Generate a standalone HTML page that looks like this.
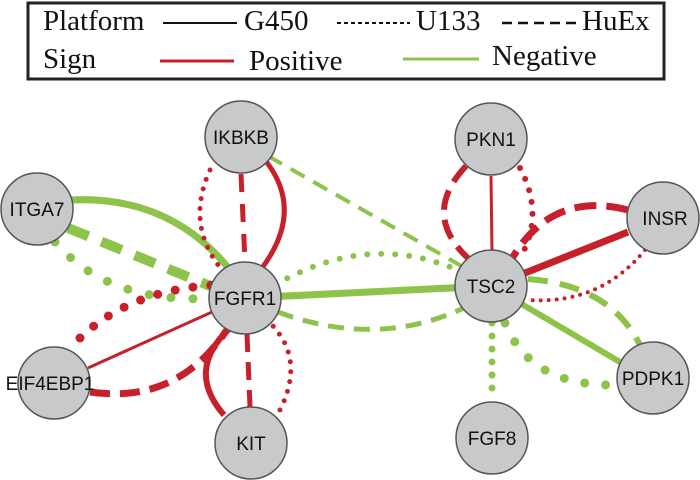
<!DOCTYPE html>
<html><head><meta charset="utf-8"><style>
html,body{margin:0;padding:0;background:#fff;}
svg{display:block;}
.lg{font-family:"Liberation Serif",serif;font-size:29px;fill:#111;}
.nd{font-family:"Liberation Sans",sans-serif;font-size:19px;fill:#111;text-anchor:middle;}
</style></head><body>
<svg width="700" height="480" viewBox="0 0 700 480" xmlns="http://www.w3.org/2000/svg">
<rect x="28" y="3" width="636" height="76" fill="#fff" stroke="#222" stroke-width="3"/>
<text class="lg" x="43" y="30">Platform</text>
<line x1="163" y1="23" x2="237" y2="23" stroke="#111" stroke-width="2"/>
<text class="lg" x="244" y="30">G450</text>
<line x1="337" y1="23" x2="410" y2="23" stroke="#111" stroke-width="2" stroke-dasharray="4 3"/>
<text class="lg" x="416" y="30">U133</text>
<line x1="502" y1="23" x2="578" y2="23" stroke="#111" stroke-width="2.5" stroke-dasharray="10 6"/>
<text class="lg" x="582" y="30">HuEx</text>
<text class="lg" x="43" y="68">Sign</text>
<line x1="160" y1="61" x2="234" y2="61" stroke="#c8202a" stroke-width="3"/>
<text class="lg" x="249" y="70">Positive</text>
<line x1="403" y1="59" x2="479" y2="59" stroke="#8dc34a" stroke-width="3"/>
<text class="lg" x="492" y="65">Negative</text>

<g fill="none" stroke-linecap="butt">
<path d="M268 156 L465 268" stroke="#8dc34a" stroke-width="4" stroke-dasharray="16 10"/>
<path d="M245 298 L491 286" stroke="#8dc34a" stroke-width="7"/>
<path d="M275 285 Q370 230 462 272" stroke="#8dc34a" stroke-width="6" stroke-dasharray="0 14" stroke-linecap="round"/>
<path d="M278 312 Q380 350 470 305" stroke="#8dc34a" stroke-width="5" stroke-dasharray="16 10"/>
<path d="M70 200 Q170 195 230 270" stroke="#8dc34a" stroke-width="7"/>
<path d="M68 228 L215 288" stroke="#8dc34a" stroke-width="10" stroke-dasharray="22 14"/>
<path d="M55 242 Q110 305 215 298" stroke="#8dc34a" stroke-width="9" stroke-dasharray="0 22" stroke-linecap="round"/>
<path d="M491 286 L625 365" stroke="#8dc34a" stroke-width="6"/>
<path d="M528 279 Q610 285 640 345" stroke="#8dc34a" stroke-width="6" stroke-dasharray="20 12"/>
<path d="M505 323 Q530 385 612 385" stroke="#8dc34a" stroke-width="9" stroke-dasharray="0 21" stroke-linecap="round"/>
<path d="M492 323 L492 400" stroke="#8dc34a" stroke-width="7" stroke-dasharray="0 13" stroke-linecap="round"/>
<path d="M241 174 L245 262" stroke="#c8202a" stroke-width="5" stroke-dasharray="18 12"/>
<path d="M265 160 Q305 210 262 268" stroke="#c8202a" stroke-width="5"/>
<path d="M210 170 Q185 225 222 270" stroke="#c8202a" stroke-width="5" stroke-dasharray="0 10" stroke-linecap="round"/>
<path d="M88 368 L212 312" stroke="#c8202a" stroke-width="3"/>
<path d="M80 338 Q130 290 215 285" stroke="#c8202a" stroke-width="9" stroke-dasharray="0 18" stroke-linecap="round"/>
<path d="M90 392 Q180 405 230 325" stroke="#c8202a" stroke-width="7" stroke-dasharray="20 10"/>
<path d="M247 334 L250 407" stroke="#c8202a" stroke-width="5" stroke-dasharray="18 10"/>
<path d="M224 415 Q185 370 230 328" stroke="#c8202a" stroke-width="6"/>
<path d="M280 410 Q305 360 272 325" stroke="#c8202a" stroke-width="5" stroke-dasharray="0 10" stroke-linecap="round"/>
<path d="M491 176 L492 252" stroke="#c8202a" stroke-width="3"/>
<path d="M466 166 Q420 215 470 260" stroke="#c8202a" stroke-width="6" stroke-dasharray="20 10"/>
<path d="M520 168 Q545 215 520 258" stroke="#c8202a" stroke-width="6" stroke-dasharray="0 12" stroke-linecap="round"/>
<path d="M628 232 L525 273" stroke="#c8202a" stroke-width="7"/>
<path d="M628 210 Q550 190 510 262" stroke="#c8202a" stroke-width="7" stroke-dasharray="22 10"/>
<path d="M645 250 Q600 305 528 300" stroke="#c8202a" stroke-width="4" stroke-dasharray="0 8" stroke-linecap="round"/>
</g>

<g fill="#c8c9cb" stroke="#555" stroke-width="1.5">
<circle cx="241" cy="137" r="36"/>
<circle cx="37" cy="209" r="36"/>
<circle cx="245" cy="298" r="36"/>
<circle cx="54" cy="383" r="36"/>
<circle cx="251" cy="443" r="36"/>
<circle cx="491" cy="139" r="36"/>
<circle cx="663" cy="218" r="36"/>
<circle cx="491" cy="286" r="36"/>
<circle cx="653" cy="378" r="36"/>
<circle cx="492" cy="438" r="36"/>
</g>
<g>
<text class="nd" x="241" y="144">IKBKB</text>
<text class="nd" x="37" y="216">ITGA7</text>
<text class="nd" x="245" y="305">FGFR1</text>
<text class="nd" x="50" y="390">EIF4EBP1</text>
<text class="nd" x="251" y="450">KIT</text>
<text class="nd" x="491" y="146">PKN1</text>
<text class="nd" x="665" y="225">INSR</text>
<text class="nd" x="491" y="293">TSC2</text>
<text class="nd" x="653" y="385">PDPK1</text>
<text class="nd" x="492" y="445">FGF8</text>
</g>
</svg>
</body></html>
